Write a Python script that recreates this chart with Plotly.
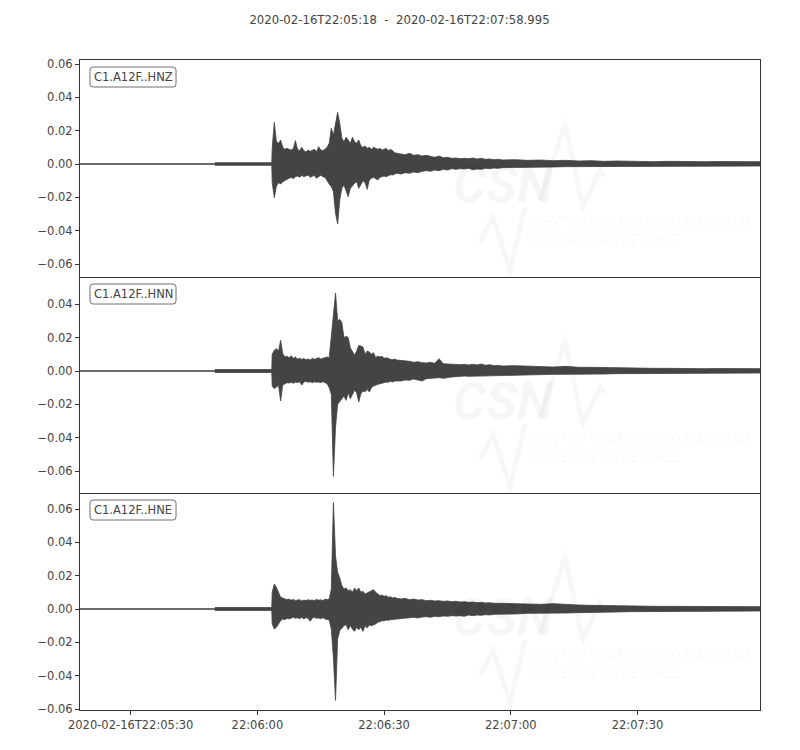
import pandas as pd
import plotly.graph_objects as go
from plotly.subplots import make_subplots

# ---------------- data ----------------
START = "2020-02-16 22:05:18"
END = "2020-02-16 22:07:58.995"
TITLE = "2020-02-16T22:05:18  -  2020-02-16T22:07:58.995"
CHANNELS = ["C1.A12F..HNZ", "C1.A12F..HNN", "C1.A12F..HNE"]

# seconds after START at which the amplitude envelope was read
T = [0.0, 31.8, 32.0, 45.4,
     45.5, 46.0, 46.5, 47.0, 47.5, 48.0, 48.5, 49.0, 49.5, 50.0,
     50.5, 51.0, 51.5, 52.0, 52.5, 53.0, 53.5, 54.0, 54.5, 55.0,
     55.5, 56.0, 56.5, 57.0, 57.5, 58.0, 58.5, 59.0, 59.5, 60.0,
     60.5, 61.0, 61.5, 62.0, 62.5, 63.0, 63.5, 64.0, 64.5, 65.0,
     65.5, 66.0, 66.5, 67.0, 67.5, 68.0, 68.5, 69.0, 69.5, 70.0,
     70.5, 71.0, 71.5, 72.0, 72.5, 73.0, 73.5, 74.0, 74.5, 75.0,
     76, 77, 78, 79, 80, 81, 82, 83, 84, 85, 86, 87, 88, 89, 90,
     91, 92, 93, 94, 95, 96, 97, 98, 99, 100,
     103, 106, 109, 112, 115, 118, 121, 124, 127, 130, 133, 136, 139,
     142, 145, 148, 151, 154, 157, 160, 161]

HNZ_MAX = [0.0002, 0.0002, 0.0008, 0.0008,
           0.0094, 0.0250, 0.0134, 0.0124, 0.0144, 0.0100, 0.0088, 0.0094, 0.0088, 0.0084,
           0.0092, 0.0140, 0.0088, 0.0080, 0.0100, 0.0080, 0.0072, 0.0084, 0.0076, 0.0080,
           0.0088, 0.0074, 0.0104, 0.0084, 0.0080, 0.0088, 0.0100, 0.0124, 0.0214, 0.0174,
           0.0254, 0.0310, 0.0244, 0.0154, 0.0134, 0.0160, 0.0144, 0.0124, 0.0160, 0.0134,
           0.0124, 0.0144, 0.0108, 0.0100, 0.0108, 0.0094, 0.0100, 0.0088, 0.0100, 0.0092,
           0.0088, 0.0094, 0.0084, 0.0088, 0.0094, 0.0080, 0.0088, 0.0080, 0.0068, 0.0064,
           0.0060, 0.0056, 0.0064, 0.0052, 0.0056, 0.0048, 0.0052, 0.0044, 0.0040, 0.0048,
           0.0038, 0.0040, 0.0034, 0.0036, 0.0032, 0.0034, 0.0032, 0.0036, 0.0030, 0.0034,
           0.0028, 0.0030, 0.0026, 0.0028, 0.0024,
           0.0026, 0.0022, 0.0024, 0.0020, 0.0022, 0.0018, 0.0020, 0.0016, 0.0018, 0.0016,
           0.0016, 0.0014, 0.0016, 0.0014, 0.0016, 0.0014, 0.0015, 0.0014, 0.0015, 0.0014, 0.0014]
HNZ_MIN = [-0.0002, -0.0002, -0.0008, -0.0008,
           -0.0110, -0.0202, -0.0132, -0.0112, -0.0120, -0.0106, -0.0096, -0.0092, -0.0086, -0.0080,
           -0.0088, -0.0076, -0.0072, -0.0080, -0.0068, -0.0076, -0.0070, -0.0066, -0.0080, -0.0072,
           -0.0068, -0.0086, -0.0076, -0.0068, -0.0076, -0.0080, -0.0096, -0.0120, -0.0136, -0.0166,
           -0.0296, -0.0360, -0.0216, -0.0146, -0.0126, -0.0166, -0.0196, -0.0146, -0.0132, -0.0116,
           -0.0106, -0.0146, -0.0120, -0.0100, -0.0112, -0.0152, -0.0096, -0.0086, -0.0080, -0.0088,
           -0.0096, -0.0080, -0.0076, -0.0072, -0.0076, -0.0068, -0.0064, -0.0066, -0.0060, -0.0056,
           -0.0060, -0.0052, -0.0056, -0.0048, -0.0052, -0.0044, -0.0040, -0.0044, -0.0036, -0.0040,
           -0.0032, -0.0036, -0.0028, -0.0032, -0.0028, -0.0030, -0.0026, -0.0034, -0.0030, -0.0032,
           -0.0026, -0.0028, -0.0024, -0.0026, -0.0022,
           -0.0022, -0.0020, -0.0018, -0.0018, -0.0016, -0.0016, -0.0014, -0.0014, -0.0014, -0.0012,
           -0.0014, -0.0012, -0.0012, -0.0012, -0.0012, -0.0012, -0.0012, -0.0012, -0.0012, -0.0012, -0.0012]

HNN_MAX = [0.0002, 0.0002, 0.0009, 0.0009,
           0.0100, 0.0124, 0.0134, 0.0120, 0.0184, 0.0104, 0.0084, 0.0088, 0.0080, 0.0092,
           0.0076, 0.0084, 0.0072, 0.0076, 0.0070, 0.0074, 0.0068, 0.0072, 0.0066, 0.0076,
           0.0070, 0.0074, 0.0080, 0.0072, 0.0076, 0.0080, 0.0084, 0.0080, 0.0220, 0.0340,
           0.0468, 0.0300, 0.0310, 0.0290, 0.0200, 0.0208, 0.0200, 0.0140, 0.0120, 0.0094,
           0.0120, 0.0154, 0.0150, 0.0144, 0.0100, 0.0120, 0.0114, 0.0100, 0.0110, 0.0080,
           0.0090, 0.0084, 0.0088, 0.0076, 0.0080, 0.0074, 0.0070, 0.0068, 0.0072, 0.0066,
           0.0064, 0.0060, 0.0058, 0.0052, 0.0056, 0.0050, 0.0048, 0.0052, 0.0046, 0.0074,
           0.0044, 0.0042, 0.0040, 0.0042, 0.0038, 0.0040, 0.0036, 0.0040, 0.0036, 0.0042,
           0.0034, 0.0038, 0.0032, 0.0034, 0.0030,
           0.0032, 0.0028, 0.0026, 0.0024, 0.0028, 0.0022, 0.0022, 0.0020, 0.0022, 0.0018,
           0.0018, 0.0016, 0.0016, 0.0014, 0.0016, 0.0014, 0.0015, 0.0014, 0.0015, 0.0014, 0.0014]
HNN_MIN = [-0.0002, -0.0002, -0.0009, -0.0009,
           -0.0090, -0.0106, -0.0096, -0.0086, -0.0180, -0.0084, -0.0076, -0.0070, -0.0072, -0.0068,
           -0.0074, -0.0066, -0.0070, -0.0064, -0.0084, -0.0066, -0.0062, -0.0068, -0.0064, -0.0070,
           -0.0064, -0.0068, -0.0066, -0.0070, -0.0064, -0.0072, -0.0076, -0.0100, -0.0140, -0.0632,
           -0.0336, -0.0200, -0.0180, -0.0166, -0.0150, -0.0176, -0.0130, -0.0166, -0.0140, -0.0116,
           -0.0130, -0.0186, -0.0136, -0.0120, -0.0124, -0.0110, -0.0126, -0.0100, -0.0090, -0.0086,
           -0.0080, -0.0076, -0.0072, -0.0070, -0.0066, -0.0068, -0.0062, -0.0066, -0.0060, -0.0058,
           -0.0060, -0.0054, -0.0056, -0.0048, -0.0052, -0.0060, -0.0046, -0.0044, -0.0042, -0.0040,
           -0.0044, -0.0038, -0.0036, -0.0034, -0.0034, -0.0030, -0.0032, -0.0034, -0.0030, -0.0032,
           -0.0028, -0.0030, -0.0028, -0.0026, -0.0028,
           -0.0026, -0.0024, -0.0022, -0.0020, -0.0020, -0.0018, -0.0020, -0.0018, -0.0016, -0.0016,
           -0.0016, -0.0014, -0.0014, -0.0014, -0.0014, -0.0012, -0.0014, -0.0012, -0.0013, -0.0012, -0.0012]

HNE_MAX = [0.0002, 0.0002, 0.0009, 0.0009,
           0.0100, 0.0150, 0.0130, 0.0100, 0.0070, 0.0066, 0.0060, 0.0056, 0.0060, 0.0052,
           0.0058, 0.0050, 0.0054, 0.0056, 0.0048, 0.0054, 0.0050, 0.0056, 0.0052, 0.0054,
           0.0050, 0.0058, 0.0052, 0.0056, 0.0050, 0.0060, 0.0056, 0.0060, 0.0120, 0.0640,
           0.0316, 0.0220, 0.0186, 0.0140, 0.0120, 0.0126, 0.0110, 0.0116, 0.0100, 0.0126,
           0.0110, 0.0126, 0.0100, 0.0106, 0.0090, 0.0096, 0.0100, 0.0106, 0.0116, 0.0100,
           0.0090, 0.0080, 0.0084, 0.0076, 0.0080, 0.0070, 0.0074, 0.0066, 0.0070, 0.0064,
           0.0060, 0.0064, 0.0056, 0.0060, 0.0054, 0.0056, 0.0050, 0.0052, 0.0048, 0.0050,
           0.0046, 0.0048, 0.0044, 0.0046, 0.0042, 0.0044, 0.0040, 0.0042, 0.0038, 0.0040,
           0.0036, 0.0038, 0.0034, 0.0036, 0.0034,
           0.0032, 0.0030, 0.0028, 0.0032, 0.0026, 0.0024, 0.0022, 0.0020, 0.0018, 0.0018,
           0.0018, 0.0016, 0.0016, 0.0016, 0.0016, 0.0014, 0.0016, 0.0014, 0.0015, 0.0014, 0.0014]
HNE_MIN = [-0.0002, -0.0002, -0.0009, -0.0009,
           -0.0090, -0.0120, -0.0110, -0.0090, -0.0070, -0.0060, -0.0064, -0.0056, -0.0060, -0.0054,
           -0.0050, -0.0056, -0.0052, -0.0058, -0.0050, -0.0060, -0.0052, -0.0056, -0.0074, -0.0054,
           -0.0050, -0.0056, -0.0054, -0.0058, -0.0052, -0.0060, -0.0064, -0.0066, -0.0120, -0.0294,
           -0.0548, -0.0180, -0.0130, -0.0114, -0.0100, -0.0094, -0.0124, -0.0100, -0.0120, -0.0134,
           -0.0110, -0.0124, -0.0110, -0.0134, -0.0100, -0.0114, -0.0096, -0.0100, -0.0094, -0.0090,
           -0.0080, -0.0076, -0.0070, -0.0072, -0.0066, -0.0068, -0.0064, -0.0060, -0.0062, -0.0058,
           -0.0056, -0.0054, -0.0052, -0.0050, -0.0054, -0.0048, -0.0046, -0.0050, -0.0044, -0.0046,
           -0.0042, -0.0044, -0.0040, -0.0042, -0.0040, -0.0044, -0.0036, -0.0040, -0.0036, -0.0038,
           -0.0034, -0.0036, -0.0032, -0.0034, -0.0030,
           -0.0030, -0.0026, -0.0026, -0.0024, -0.0024, -0.0022, -0.0020, -0.0018, -0.0018, -0.0016,
           -0.0016, -0.0016, -0.0014, -0.0014, -0.0014, -0.0014, -0.0014, -0.0012, -0.0013, -0.0012, -0.0012]

Y_RANGES = [[-0.0678, 0.0624], [-0.0732, 0.0564], [-0.0606, 0.0696]]

X_TICKS = ["2020-02-16 22:05:30", "2020-02-16 22:06:00", "2020-02-16 22:06:30",
           "2020-02-16 22:07:00", "2020-02-16 22:07:30"]
X_TICK_LABELS = ["2020-02-16T22:05:30", "22:06:00", "22:06:30", "22:07:00", "22:07:30"]

SERIES = [(HNZ_MAX, HNZ_MIN), (HNN_MAX, HNN_MIN), (HNE_MAX, HNE_MIN)]
for mx, mn in SERIES:
    assert len(mx) == len(T) and len(mn) == len(T), (len(mx), len(mn), len(T))

# ---------------- figure ----------------
FONT = "DejaVu Sans, sans-serif"
WM_FONT = "Roboto, Liberation Sans, sans-serif"
WAVE = "#444444"
TEXT = "#444444"
FRAME = "#333333"

# the page body adds an 8px offset, so the figure is 8px smaller and margins shifted
FIG_W, FIG_H = 792, 742
M_L, M_R, M_T, M_B = 72, 40, 52, 40
PLOT_W = FIG_W - M_L - M_R          # 680
PLOT_H = FIG_H - M_T - M_B          # 650
PANEL_TOPS = [0, 217, 433]          # pixel offsets of the panel tops inside the plot area


def py(px):
    return 1 - px / PLOT_H


def pxx(px):
    return px / PLOT_W


times = list(pd.Timestamp(START) + pd.to_timedelta(T, unit="s"))

fig = make_subplots(rows=3, cols=1, shared_xaxes=True, vertical_spacing=0)

for i, (mx, mn) in enumerate(SERIES):
    xs = times + times[::-1]
    ys = list(mx) + list(mn)[::-1]
    fig.add_trace(go.Scatter(x=xs, y=ys, mode="lines", fill="toself",
                             fillcolor=WAVE, line=dict(color=WAVE, width=0.8),
                             hoverinfo="skip", showlegend=False), row=i + 1, col=1)

domains = [[py(217), 1.0], [py(433), py(217)], [0.0, py(433)]]
for i in range(3):
    r = i + 1
    fig.update_yaxes(domain=domains[i], range=Y_RANGES[i], dtick=0.02, tick0=0,
                     tickformat=".2f", showgrid=False, zeroline=False, showline=True,
                     mirror=True, linecolor=FRAME, linewidth=1, ticks="outside", ticklen=4,
                     tickwidth=1, tickcolor=FRAME,
                     tickfont=dict(size=11.5, color=TEXT, family=FONT), row=r, col=1)
    fig.update_xaxes(range=[START, END], showgrid=False, zeroline=False, showline=True,
                     mirror=(i == 0), linecolor=FRAME, linewidth=1, row=r, col=1)

fig.update_xaxes(showticklabels=False, ticks="", row=1, col=1)
fig.update_xaxes(showticklabels=False, ticks="", row=2, col=1)
fig.update_xaxes(tickvals=X_TICKS, ticktext=X_TICK_LABELS, ticks="outside", ticklen=4,
                 tickwidth=1, tickcolor=FRAME, showticklabels=True,
                 tickfont=dict(size=11.5, color=TEXT, family=FONT), row=3, col=1)


def rounded_box(x0, y0, x1, y1, r):
    """SVG path in paper coordinates for a rounded rectangle given in plot-area pixels."""
    X = lambda v: pxx(v)
    Y = lambda v: py(v)
    return (f"M {X(x0 + r)},{Y(y0)} L {X(x1 - r)},{Y(y0)} Q {X(x1)},{Y(y0)} {X(x1)},{Y(y0 + r)} "
            f"L {X(x1)},{Y(y1 - r)} Q {X(x1)},{Y(y1)} {X(x1 - r)},{Y(y1)} "
            f"L {X(x0 + r)},{Y(y1)} Q {X(x0)},{Y(y1)} {X(x0)},{Y(y1 - r)} "
            f"L {X(x0)},{Y(y0 + r)} Q {X(x0)},{Y(y0)} {X(x0 + r)},{Y(y0)} Z")


def polyline(points):
    return "M " + " L ".join(f"{pxx(x)},{py(y)}" for x, y in points)


annotations = []
shapes = []
wm = "rgba(0,0,0,0.035)"
for i, name in enumerate(CHANNELS):
    top = PANEL_TOPS[i]
    # channel label box (rounded)
    shapes.append(dict(type="path", xref="paper", yref="paper", layer="above",
                       path=rounded_box(10, top + 7, 96, top + 27, 3),
                       line=dict(color="#707070", width=1), fillcolor="white"))
    annotations.append(dict(text=name, xref="paper", yref="paper", x=pxx(53),
                            y=py(top + 17), xanchor="center", yanchor="middle", showarrow=False,
                            font=dict(size=11.5, color=TEXT, family=FONT)))
    # faint CSN watermark
    annotations.append(dict(text="<b><i>CSN</i></b>", xref="paper", yref="paper",
                            x=pxx(423), y=py(top + 124), xanchor="center", yanchor="middle",
                            showarrow=False, font=dict(size=52, color=wm, family=WM_FONT)))
    annotations.append(dict(text="<i>CENTRO SISMOLÓGICO NACIONAL</i>", xref="paper",
                            yref="paper", x=pxx(450), y=py(top + 162), xanchor="left",
                            yanchor="middle", showarrow=False,
                            font=dict(size=14.5, color=wm, family=WM_FONT)))
    annotations.append(dict(text="<i>UNIVERSIDAD DE CHILE</i>", xref="paper", yref="paper",
                            x=pxx(448), y=py(top + 180), xanchor="left", yanchor="middle",
                            showarrow=False, font=dict(size=14.5, color=wm, family=WM_FONT)))
    shapes.append(dict(type="path", xref="paper", yref="paper", layer="below",
                       path=polyline([(460, top + 140), (485, top + 65), (503, top + 147),
                                      (520, top + 110), (524, top + 117)]),
                       line=dict(color="rgba(0,0,0,0.03)", width=5)))
    shapes.append(dict(type="path", xref="paper", yref="paper", layer="below",
                       path=polyline([(400, top + 182), (413, top + 157), (430, top + 210),
                                      (445, top + 147)]),
                       line=dict(color="rgba(0,0,0,0.03)", width=5)))

fig.update_layout(
    width=FIG_W, height=FIG_H,
    margin=dict(l=M_L, r=M_R, t=M_T, b=M_B),
    paper_bgcolor="white", plot_bgcolor="white",
    font=dict(family=FONT, color=TEXT, size=11.5),
    title=dict(text=TITLE, x=391.5 / FIG_W, xref="container", xanchor="center",
               y=1 - 12 / FIG_H, yref="container", yanchor="middle",
               font=dict(size=11.7, color=TEXT, family=FONT)),
    annotations=annotations,
    shapes=shapes,
    showlegend=False,
)

fig.write_html("out.html")
